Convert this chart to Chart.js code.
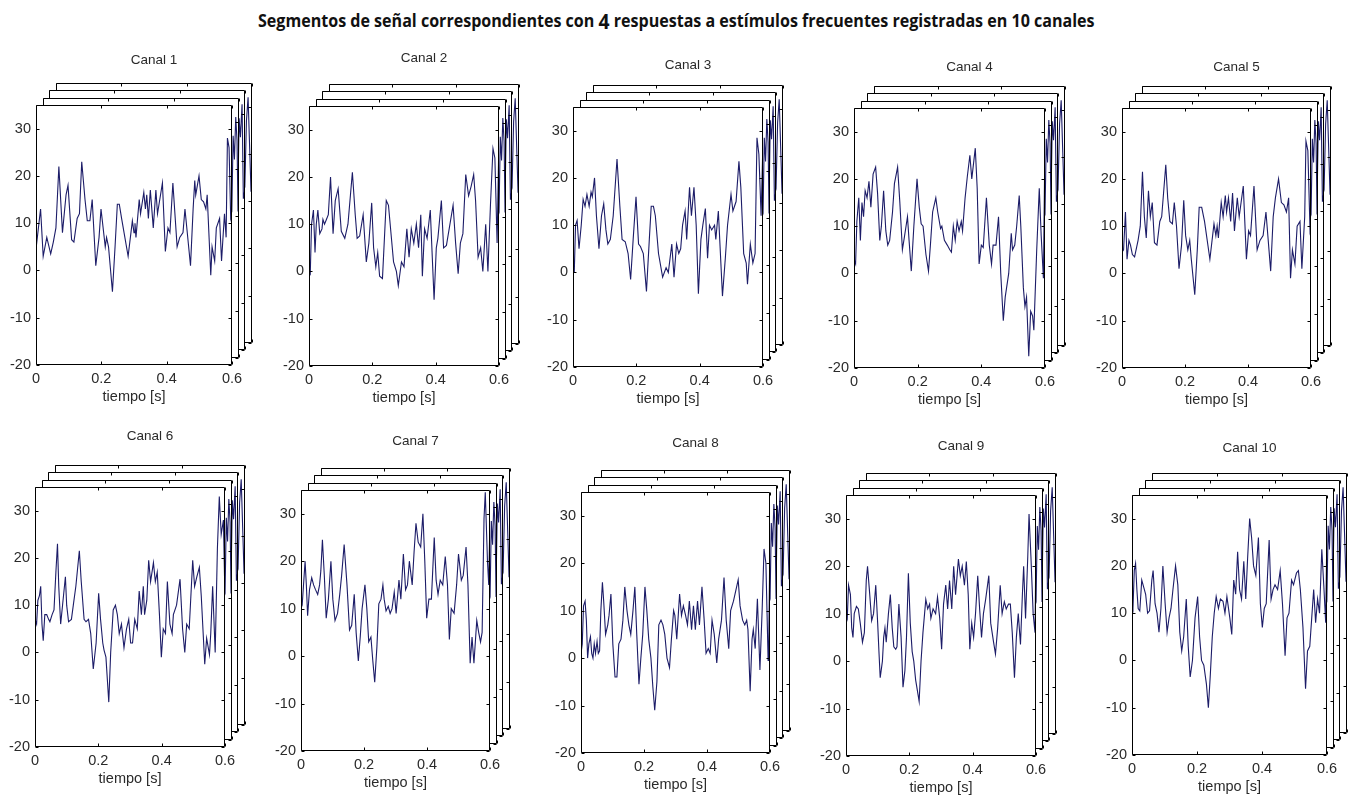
<!DOCTYPE html>
<html lang="es">
<head>
<meta charset="utf-8">
<title>Segmentos de señal - 10 canales</title>
<script src="https://cdn.jsdelivr.net/npm/chart.js@4.4.1/dist/chart.umd.min.js"></script>
<style>
  html, body { margin: 0; padding: 0; background: #fff; }
  body { width: 1349px; height: 796px; position: relative; overflow: hidden; }
  #titulo {
    position: absolute; top: 10px; left: 258px; white-space: nowrap;
    font-family: "Open Sans", sans-serif; font-weight: 700; font-size: 17.5px;
    line-height: 20px; color: #111; transform-origin: 0 0;
  }
  #titulo .n { font-size: 21px; vertical-align: -2px; }
  canvas { position: absolute; }
</style>
</head>
<body>
<div id="titulo">Segmentos de señal correspondientes con <span class="n">4</span> respuestas a estímulos frecuentes registradas en 10 canales</div>
<script>
// valores: [tiempo (s), amplitud]
const canal1 = [[0,4.5],[0.014,13],[0.022,3],[0.033,7],[0.045,3.5],[0.053,6],[0.061,9],[0.070,22],[0.081,8],[0.092,16],[0.098,18],[0.109,6.5],[0.116,6],[0.126,11],[0.133,12],[0.140,23],[0.150,15],[0.157,10.5],[0.165,10.5],[0.172,15],[0.183,1],[0.193,7],[0.199,13],[0.212,5],[0.216,7],[0.222,5],[0.234,-4.5],[0.242,5],[0.249,14],[0.255,14],[0.262,11],[0.282,3],[0.295,10.5],[0.300,8],[0.303,10],[0.306,7],[0.316,15],[0.320,12],[0.330,16.5],[0.335,13],[0.339,16],[0.344,11],[0.350,17],[0.359,9],[0.367,17],[0.372,12],[0.387,18.5],[0.396,4],[0.404,9],[0.410,8],[0.419,18.5],[0.432,5],[0.440,7],[0.450,8],[0.456,13],[0.473,1],[0.481,13],[0.486,19],[0.489,16],[0.499,20],[0.506,15],[0.513,14.5],[0.520,13],[0.524,16],[0.535,-1],[0.539,5],[0.547,2],[0.552,9],[0.562,11],[0.568,2],[0.577,12],[0.582,7],[0.586,28],[0.591,26],[0.596,11],[0.600,12]];
const canal2 = [[0,0],[0.004,-0.5],[0.008,10],[0.014,13],[0.019,4],[0.023,10],[0.028,13],[0.034,8],[0.041,9],[0.044,11],[0.049,10],[0.055,11],[0.061,12],[0.068,20],[0.076,8],[0.083,15],[0.092,17.5],[0.102,8.5],[0.113,7],[0.123,10],[0.137,21],[0.146,12],[0.152,7],[0.160,7.5],[0.171,12],[0.181,2],[0.189,6],[0.198,14.5],[0.204,5],[0.211,1],[0.217,4],[0.223,-1],[0.232,-1.5],[0.244,15],[0.251,14],[0.267,2],[0.276,0],[0.282,-3],[0.292,2],[0.300,1],[0.309,9],[0.316,3],[0.323,9],[0.331,6],[0.339,10],[0.346,5],[0.353,12],[0.358,-1],[0.365,9],[0.373,7],[0.383,13],[0.395,-6],[0.402,5],[0.407,7],[0.418,15],[0.425,5],[0.434,5.5],[0.455,14],[0.463,6],[0.471,-0.5],[0.478,6],[0.486,8],[0.495,20.5],[0.504,16],[0.512,18],[0.520,20.5],[0.526,15],[0.534,3],[0.542,5],[0.549,0],[0.558,10],[0.565,0],[0.573,14],[0.581,26],[0.587,24],[0.594,6],[0.600,29]];
const canal3 = [[0,2],[0.004,0],[0.008,10],[0.013,11],[0.019,5],[0.026,10],[0.032,15.5],[0.038,14],[0.044,16.5],[0.051,14],[0.057,17],[0.061,16],[0.068,20],[0.074,12],[0.082,5],[0.090,12],[0.097,14.5],[0.104,9],[0.110,6],[0.118,7],[0.127,12],[0.139,24],[0.148,14],[0.155,7],[0.165,6.5],[0.174,4],[0.182,-1.5],[0.190,7],[0.199,16],[0.207,6],[0.213,5.5],[0.222,4],[0.232,-4],[0.241,7],[0.247,14],[0.254,14],[0.260,12],[0.270,4],[0.283,-1],[0.294,1],[0.301,0],[0.312,6],[0.319,-1],[0.327,6],[0.334,4],[0.340,5],[0.346,10],[0.354,13],[0.359,7],[0.368,18],[0.374,12],[0.382,18],[0.389,10],[0.396,-4.5],[0.404,7],[0.410,10],[0.418,13.5],[0.425,3],[0.431,10],[0.438,9],[0.447,10],[0.451,7],[0.459,13],[0.472,-5],[0.481,3],[0.488,10],[0.499,16.5],[0.505,13],[0.515,15],[0.524,23.5],[0.530,18],[0.539,4],[0.547,2],[0.551,-2.5],[0.560,6],[0.568,2],[0.575,4],[0.581,28.5],[0.587,25],[0.594,12],[0.600,28]];
const canal4 = [[0,3],[0.005,2],[0.009,11],[0.015,16],[0.020,7],[0.025,15],[0.030,12],[0.035,17.5],[0.041,16],[0.047,19.5],[0.053,14],[0.060,21],[0.068,22.5],[0.074,17],[0.081,7],[0.086,10],[0.093,17.5],[0.100,9],[0.106,6],[0.112,7],[0.121,13],[0.127,19],[0.137,22.5],[0.144,15],[0.152,5],[0.159,8],[0.168,12],[0.173,7],[0.180,0.5],[0.188,10],[0.198,20],[0.205,14],[0.211,10.5],[0.217,10],[0.226,4],[0.234,0.5],[0.240,6],[0.247,13],[0.257,16],[0.263,13],[0.272,9.5],[0.276,10],[0.284,7],[0.293,6],[0.301,5],[0.306,4.5],[0.312,10],[0.318,7],[0.324,11],[0.330,9],[0.337,11],[0.341,9],[0.349,16],[0.356,20.5],[0.364,25],[0.370,20],[0.381,26.5],[0.387,18],[0.393,2],[0.400,6],[0.406,5.5],[0.416,16],[0.425,6],[0.432,2],[0.437,6],[0.446,6],[0.454,12],[0.461,0],[0.469,-10],[0.475,-5],[0.486,0],[0.494,8.5],[0.498,5],[0.505,6],[0.511,10],[0.519,16.5],[0.524,10],[0.532,-3],[0.537,-7],[0.542,-5],[0.549,-17.5],[0.555,-8],[0.561,-9],[0.565,-12],[0.574,5],[0.582,18],[0.588,8],[0.595,-1],[0.600,29]];
const canal5 = [[0,4.5],[0.005,5],[0.011,13],[0.016,3],[0.022,7],[0.027,6],[0.033,4],[0.040,3.5],[0.051,7],[0.058,10],[0.065,21.5],[0.071,12],[0.077,7.5],[0.084,17.5],[0.090,12],[0.096,15],[0.103,6.5],[0.111,6],[0.120,11],[0.126,12],[0.139,23],[0.145,16],[0.152,11],[0.160,10.5],[0.166,15],[0.173,10],[0.181,1],[0.189,6],[0.196,15.5],[0.202,8],[0.209,5],[0.215,7],[0.220,3],[0.231,-4.5],[0.239,5],[0.245,14],[0.253,14],[0.262,11],[0.279,3],[0.292,10.5],[0.298,8],[0.302,10],[0.306,7.5],[0.315,15],[0.321,12],[0.328,16.5],[0.332,13],[0.338,16],[0.345,11],[0.351,17],[0.357,9],[0.366,16],[0.372,12],[0.385,18.5],[0.395,3],[0.402,9],[0.408,8],[0.419,18.5],[0.429,5],[0.438,7],[0.448,8],[0.457,13],[0.472,0.5],[0.480,12],[0.487,16],[0.497,20],[0.506,15],[0.514,14.5],[0.522,13],[0.529,16],[0.535,-1],[0.541,5],[0.549,2],[0.556,10],[0.565,11],[0.571,1],[0.580,12],[0.584,28],[0.590,26],[0.597,9],[0.600,10]];
const canal6 = [[0,7],[0.005,6],[0.009,11],[0.014,12],[0.018,14],[0.022,6],[0.026,2.5],[0.031,8],[0.037,8],[0.043,7],[0.047,6.5],[0.054,8],[0.060,9],[0.066,17],[0.071,23],[0.075,14],[0.081,6],[0.087,10],[0.096,16],[0.100,10],[0.106,6.5],[0.115,7],[0.121,10],[0.129,14],[0.140,21.5],[0.146,15],[0.155,7],[0.161,6.5],[0.169,7],[0.176,4],[0.184,-3.5],[0.193,2],[0.201,12.5],[0.207,7],[0.214,2],[0.218,0.5],[0.224,-1],[0.233,-10.5],[0.239,0],[0.247,9],[0.254,10],[0.260,8],[0.266,4],[0.273,6],[0.281,1],[0.289,5],[0.296,7],[0.302,2],[0.308,2],[0.315,7],[0.323,5],[0.329,13],[0.336,8],[0.342,14],[0.346,8],[0.353,11],[0.359,19.5],[0.365,15],[0.374,19],[0.380,15],[0.386,17],[0.393,8],[0.399,-1],[0.405,5],[0.412,4],[0.418,15],[0.426,6],[0.433,4],[0.437,8],[0.447,10],[0.458,15.5],[0.466,5],[0.473,0],[0.479,6],[0.487,5],[0.498,19.5],[0.504,14],[0.511,16],[0.519,18],[0.525,12],[0.536,-2.5],[0.542,3],[0.551,-0.5],[0.555,4],[0.561,14],[0.569,0],[0.576,22],[0.582,33],[0.588,25],[0.595,28],[0.600,11]];
const canal7 = [[0,12],[0.004,11],[0.008,15],[0.013,20],[0.017,15],[0.021,8.5],[0.027,14],[0.034,16.5],[0.040,15],[0.046,14],[0.053,13],[0.059,15],[0.063,18],[0.068,24.5],[0.074,17],[0.080,8],[0.087,12],[0.095,20],[0.101,12],[0.108,7.5],[0.116,9],[0.123,13],[0.129,17],[0.137,23.5],[0.146,15],[0.154,5.5],[0.161,6.5],[0.169,13],[0.175,5],[0.182,-1],[0.188,4],[0.194,10],[0.203,15],[0.209,10],[0.215,3],[0.222,4],[0.228,-1],[0.234,-5.5],[0.241,2],[0.247,11],[0.254,12],[0.260,15],[0.264,12],[0.270,9.5],[0.277,10.5],[0.283,9],[0.289,10],[0.296,13.5],[0.302,9],[0.311,16],[0.317,12],[0.325,21.5],[0.332,14],[0.338,15],[0.344,20],[0.353,15],[0.359,22],[0.365,28],[0.372,24],[0.380,23],[0.387,30],[0.393,20],[0.399,8],[0.406,12],[0.414,12],[0.423,25],[0.429,16],[0.435,13],[0.442,16],[0.450,15],[0.458,21],[0.465,15],[0.471,3.5],[0.477,10],[0.486,9],[0.494,15],[0.500,21.5],[0.509,16],[0.515,17],[0.524,23],[0.530,15],[0.537,-1.5],[0.543,4],[0.549,-1.5],[0.558,7.5],[0.564,5],[0.570,3],[0.575,5],[0.581,29],[0.585,34.5],[0.592,20],[0.596,15],[0.600,30]];
const canal8 = [[0,1],[0.004,3],[0.008,11],[0.013,12],[0.017,8],[0.021,0],[0.025,3],[0.030,4.5],[0.034,1],[0.038,0],[0.042,3],[0.046,1],[0.051,3.5],[0.055,1],[0.059,1.5],[0.063,10],[0.068,16],[0.072,12],[0.078,5],[0.085,7],[0.089,9],[0.095,13.5],[0.101,3],[0.108,-4],[0.114,-4],[0.120,3],[0.127,4],[0.133,8],[0.139,15],[0.146,10],[0.152,7],[0.158,5],[0.165,10],[0.171,15],[0.177,5],[0.184,-5.5],[0.190,0],[0.196,5],[0.203,15],[0.209,10],[0.215,4],[0.222,0],[0.228,-6],[0.234,-11],[0.241,-5],[0.247,7],[0.254,8],[0.260,7],[0.266,5],[0.273,0],[0.281,-2],[0.287,4],[0.294,10],[0.298,9],[0.304,4],[0.313,13.5],[0.319,9],[0.325,11],[0.332,9],[0.338,7],[0.344,12],[0.351,6],[0.357,11],[0.363,6],[0.370,12],[0.376,7],[0.384,15],[0.391,8],[0.397,1],[0.404,2],[0.410,1],[0.416,8],[0.423,5],[0.431,-1],[0.437,4],[0.446,8],[0.454,17],[0.461,8],[0.469,2],[0.475,10],[0.484,12],[0.499,16.5],[0.505,11],[0.513,8],[0.520,7],[0.526,8],[0.530,6],[0.537,-7],[0.543,4],[0.547,6],[0.553,2],[0.560,12.5],[0.568,-2.5],[0.575,10],[0.581,23],[0.587,20],[0.594,-0.5],[0.596,3],[0.600,26]];
const canal9 = [[0,10],[0.004,9],[0.008,16],[0.014,14],[0.018,7],[0.022,5],[0.026,10],[0.033,11.5],[0.039,11],[0.045,8],[0.052,4],[0.058,6],[0.064,17],[0.068,20],[0.075,14],[0.081,8.5],[0.087,10],[0.094,16],[0.100,8],[0.104,2],[0.108,-3.5],[0.115,0],[0.119,5],[0.123,7],[0.127,4],[0.134,10],[0.140,14],[0.146,7],[0.151,3],[0.157,2.5],[0.161,3],[0.167,12],[0.174,5],[0.180,-5.5],[0.186,-2],[0.191,5],[0.197,18.5],[0.203,8],[0.209,2],[0.214,0],[0.220,-4],[0.231,-8.5],[0.237,0],[0.243,6],[0.252,13],[0.258,11],[0.264,12],[0.268,9],[0.275,11],[0.283,10],[0.289,13.5],[0.296,9],[0.302,2.5],[0.308,12],[0.315,16],[0.321,11],[0.327,17],[0.334,11],[0.340,20],[0.346,14],[0.355,21.5],[0.361,18],[0.367,20],[0.374,16],[0.380,21],[0.386,14],[0.391,2.5],[0.397,8],[0.403,5],[0.409,10],[0.416,18],[0.422,11],[0.428,5],[0.434,10],[0.441,13],[0.451,18],[0.457,8],[0.466,4],[0.472,1.5],[0.479,7],[0.487,16],[0.493,10],[0.500,12.5],[0.506,11],[0.513,12],[0.519,12],[0.525,6],[0.532,-3.5],[0.538,5],[0.544,10],[0.551,3.5],[0.557,14],[0.561,20],[0.567,9],[0.574,22],[0.578,31],[0.584,22],[0.591,10],[0.597,6],[0.600,27]];
const canal10 = [[0,12],[0.003,11],[0.007,19],[0.011,20.5],[0.015,15],[0.019,11],[0.024,10.5],[0.030,17],[0.036,15.5],[0.042,14],[0.048,10],[0.054,10.5],[0.061,17],[0.065,19],[0.071,12],[0.077,10],[0.083,6],[0.089,11],[0.095,20],[0.102,12],[0.108,6],[0.114,9],[0.120,11],[0.126,15],[0.134,20],[0.141,16],[0.147,6],[0.153,2],[0.159,5],[0.167,13],[0.173,3],[0.179,-3.5],[0.186,0],[0.194,9],[0.202,13.5],[0.208,5],[0.214,0],[0.221,-1],[0.229,-5],[0.235,-10],[0.241,-3],[0.247,5],[0.253,10],[0.259,13.5],[0.266,11],[0.272,13],[0.280,12.5],[0.286,10],[0.292,13.5],[0.301,9],[0.307,5.5],[0.313,17],[0.319,14],[0.325,23],[0.331,15],[0.337,13],[0.344,21],[0.350,13],[0.356,22],[0.362,30],[0.368,26],[0.374,20],[0.381,18],[0.389,26],[0.395,12],[0.401,7],[0.407,11],[0.413,12],[0.422,25.5],[0.428,13],[0.434,15],[0.440,16],[0.448,15],[0.456,19],[0.463,12],[0.471,1],[0.477,9],[0.483,10],[0.491,17],[0.497,16],[0.506,18.5],[0.512,19],[0.518,15],[0.526,7],[0.534,-6],[0.540,2],[0.547,3],[0.553,9],[0.559,15],[0.565,8],[0.571,13],[0.577,10],[0.584,23.5],[0.590,16],[0.596,8],[0.600,29]];

// final visible de las respuestas 2, 3 y 4 (ventanas de atras)
const fondo1 = [[0.570,9],[0.578,11],[0.582,27],[0.586,22],[0.590,31],[0.594,26],[0.597,11],[0.600,13]];
const fondo2 = [[0.570,10],[0.578,12],[0.582,29],[0.586,25],[0.591,32],[0.595,12],[0.600,14]];
const fondo3 = [[0.570,11],[0.578,13],[0.583,27],[0.588,32],[0.593,21],[0.597,12],[0.600,14]];

const canales = [canal1, canal2, canal3, canal4, canal5, canal6, canal7, canal8, canal9, canal10];
const nombres = ["Canal 1", "Canal 2", "Canal 3", "Canal 4", "Canal 5", "Canal 6", "Canal 7", "Canal 8", "Canal 9", "Canal 10"];
const ticksX = [0, 0.2, 0.4, 0.6];
const ticksY = [-20, -10, 0, 10, 20, 30];

// posicion de cada ventana delantera en la pagina: izq, arriba, der, abajo, centro del titulo
const cajas = [
  [36, 105, 232, 365, 60], [309, 106, 499, 366, 58], [573, 107, 763, 367, 65],
  [854, 108, 1045, 368, 67], [1122, 108, 1311, 368, 67],
  [35, 487, 225, 747, 436], [301, 490, 490, 751, 441], [581, 492, 770, 753, 443],
  [846, 495, 1036, 756, 446], [1132, 495, 1327, 755, 448]
];

const COLOR = "#1c1c68";
const TEXTO = "#2a2a2a";
const FUENTE = "'Liberation Sans', Arial, sans-serif";

// marco tipo matlab: fondo blanco, caja y marcas hacia adentro
const marco = {
  id: "marco",
  beforeDraw(chart) {
    const { ctx, chartArea: a } = chart;
    ctx.save();
    ctx.fillStyle = "#fff";
    ctx.fillRect(a.left, a.top, a.right - a.left, a.bottom - a.top);
    ctx.restore();
  },
  afterDraw(chart) {
    const { ctx, chartArea: a, scales } = chart;
    const L = Math.round(a.left) + 0.5, R = Math.round(a.right) - 0.5;
    const T = Math.round(a.top) + 0.5, B = Math.round(a.bottom) - 0.5;
    const tl = 3;
    ctx.save();
    ctx.strokeStyle = "#000";
    ctx.lineWidth = 1;
    ctx.beginPath();
    ctx.rect(L, T, R - L, B - T);
    ticksX.forEach(v => {
      const px = Math.round(scales.x.getPixelForValue(v)) + 0.5;
      ctx.moveTo(px, B); ctx.lineTo(px, B - tl);
      ctx.moveTo(px, T); ctx.lineTo(px, T + tl);
    });
    ticksY.forEach(v => {
      const py = Math.round(scales.y.getPixelForValue(v)) + 0.5;
      ctx.moveTo(L, py); ctx.lineTo(L + tl, py);
      ctx.moveTo(R, py); ctx.lineTo(R - tl, py);
    });
    ctx.stroke();
    ctx.restore();
  }
};

function nuevoCanvas(left, top, w, h) {
  const c = document.createElement("canvas");
  c.width = w; c.height = h;
  c.style.left = left + "px"; c.style.top = top + "px";
  c.style.width = w + "px"; c.style.height = h + "px";
  document.body.appendChild(c);
  return c;
}

function serie(datos) {
  return {
    data: datos.map(p => ({ x: p[0], y: p[1] })),
    borderColor: COLOR,
    borderWidth: 1.1,
    pointRadius: 0,
    tension: 0,
    fill: false
  };
}

function escalas(frente) {
  const x = {
    type: "linear", min: 0, max: 0.6, display: frente,
    afterBuildTicks: s => { s.ticks = ticksX.map(v => ({ value: v })); },
    grid: { display: false, drawTicks: false },
    border: { display: false },
    ticks: { color: TEXTO, font: { family: FUENTE, size: 14.5 }, padding: 5, autoSkip: false, maxRotation: 0, callback: v => String(v) },
    title: { display: true, text: "tiempo [s]", color: TEXTO, font: { family: FUENTE, size: 14.5 }, padding: { top: 0, bottom: 4 } }
  };
  const y = {
    type: "linear", min: -20, max: 35, display: frente,
    afterBuildTicks: s => { s.ticks = ticksY.map(v => ({ value: v })); },
    grid: { display: false, drawTicks: false },
    border: { display: false },
    ticks: { color: TEXTO, font: { family: FUENTE, size: 14.5 }, padding: 5, autoSkip: false, callback: v => String(v) }
  };
  if (frente) {
    x.afterFit = s => { s.height = 45; };
    y.afterFit = s => { s.width = 40; };
  }
  return { x, y };
}

const offX = [0, 7, 13, 20];
const offY = [0, 7, 15, 22];
const colas = [null, fondo1, fondo2, fondo3];
const ALTO_TITULO = 36;
const PAD_SUP = 20, PAD_DER = 24;

cajas.forEach((caja, i) => {
  const [L, T, R, B, ty] = caja;
  const W = R - L, H = B - T;

  // ventanas de atras, de la mas lejana a la mas cercana
  for (let k = 3; k >= 1; k--) {
    const bl = L + offX[k], bt = T - offY[k];
    const conTitulo = k === 3;
    const extra = conTitulo ? ALTO_TITULO : 0;
    const top = bt - 1 - extra;
    const c = nuevoCanvas(bl - 1, top, W + 2, H + 2 + extra);
    const pt = ty - top - 1 - 8.1;
    new Chart(c, {
      type: "line",
      data: { datasets: [serie(colas[k])] },
      options: {
        responsive: false, animation: false, devicePixelRatio: 1,
        layout: { padding: 1 },
        plugins: {
          legend: { display: false }, tooltip: { enabled: false },
          title: {
            display: conTitulo, text: nombres[i], color: TEXTO,
            font: { family: FUENTE, size: 13.5, weight: "normal" },
            padding: { top: pt, bottom: ALTO_TITULO - pt - 16.2 }
          }
        },
        scales: escalas(false)
      },
      plugins: [marco]
    });
  }

  // ventana delantera con ejes
  const c = nuevoCanvas(L - 40, T - PAD_SUP, W + 40 + PAD_DER, H + PAD_SUP + 45);
  new Chart(c, {
    type: "line",
    data: { datasets: [serie(canales[i])] },
    options: {
      responsive: false, animation: false, devicePixelRatio: 1,
      layout: { padding: { left: 0, top: PAD_SUP, right: PAD_DER, bottom: 0 } },
      plugins: { legend: { display: false }, tooltip: { enabled: false } },
      scales: escalas(true)
    },
    plugins: [marco]
  });
});

// ajustar el ancho del titulo general al de la figura
const titulo = document.getElementById("titulo");
titulo.style.transform = "scaleX(" + (837 / titulo.offsetWidth) + ")";
</script>
</body>
</html>
